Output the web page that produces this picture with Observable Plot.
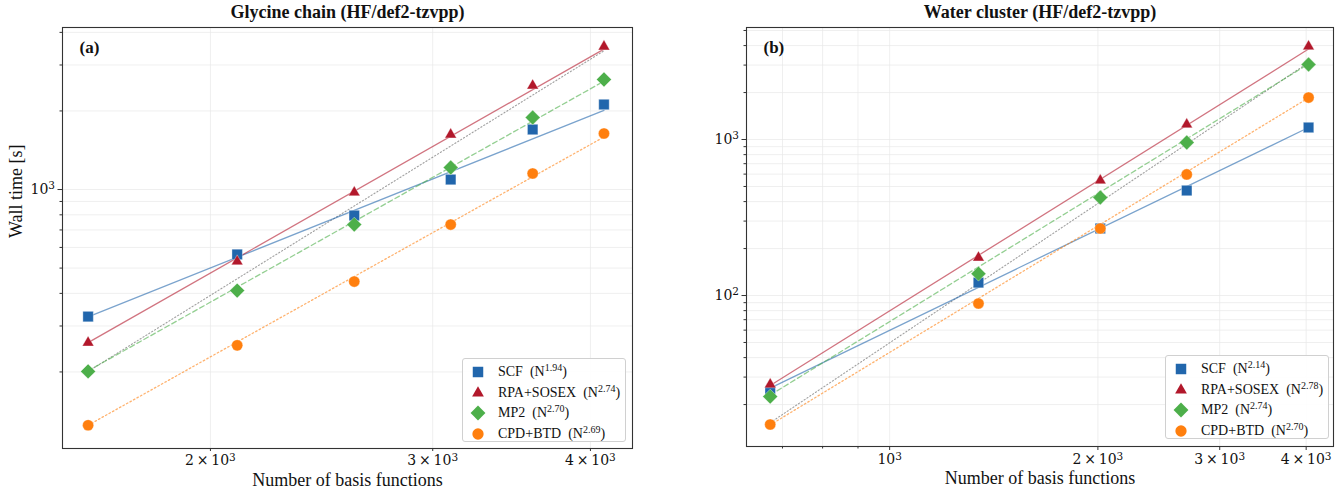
<!DOCTYPE html>
<html>
<head>
<meta charset="utf-8">
<script src="https://cdn.jsdelivr.net/npm/d3@7"></script>
<script src="https://cdn.jsdelivr.net/npm/@observablehq/plot@0.6"></script>
<style>
  body { margin: 0; background: #fff; }
  #wrap { position: relative; width: 1340px; height: 491px; font-family: "Liberation Serif", serif; }
  .panel { position: absolute; top: 0; }
  .legend { position: absolute; border: 1px solid #d0d0d0; border-radius: 3px; background: rgba(255,255,255,0.9);
            font-family: "Liberation Serif", serif; font-size: 14px; color: #111; box-sizing: border-box; padding: 3px 0 0 0; }
  .legend .row { height: 20.5px; display: flex; align-items: center; white-space: nowrap; }
  .legend svg { margin-left: 7px; margin-right: 12px; }
  .legend sup { font-size: 10px; vertical-align: 5px; line-height: 0; }
</style>
</head>
<body>
<div id="wrap"></div>
<script>
// ---------- data ----------
const methods = ["SCF", "RPA+SOSEX", "MP2", "CPD+BTD"];
const colors = ["#2166ac", "#b2182b", "#4daf4a", "#ff7f0e"];
const symbols = ["square", "triangle", "diamond2", "circle"];
const dashes = [null, null, "5,3", "1.5,2.5"];

// Panel (a): Glycine chain
const glyTitle = "Glycine chain (HF/def2-tzvpp)";
const glyN   = [1600, 2100, 2600, 3100, 3600, 4100];
const glySCF = [326, 564, 795, 1092, 1698, 2117];
const glyRPA = [259, 530, 974, 1624, 2502, 3530];
const glyMP2 = [201, 410, 734, 1214, 1888, 2639];
const glyCPD = [125, 253, 444, 734, 1152, 1639];
const glyFitN = [1600, 4100];
const glyFitSCF = [325, 2010];
const glyFitRPA = [259, 3450];
const glyFitMP2 = [202, 2600];
const glyFitCPD = [125, 1590];
const glyRef    = [201, 3400];
const glyExp = ["1.94", "2.74", "2.70", "2.69"];

// Panel (b): Water cluster
const watTitle = "Water cluster (HF/def2-tzvpp)";
const watN   = [672, 1344, 2016, 2688, 4032];
const watSCF = [24.3, 121, 269, 471, 1194];
const watRPA = [26.9, 175, 546, 1248, 3948];
const watMP2 = [22.5, 138, 425, 957, 3026];
const watCPD = [14.9, 88.9, 269, 597, 1858];
const watFitN = [672, 4032];
const watFitSCF = [25.5, 1194];
const watFitRPA = [26.5, 3800];
const watFitMP2 = [23, 3050];
const watFitCPD = [14.8, 1850];
const watRef    = [15.3, 3115];
const watExp = ["2.14", "2.78", "2.74", "2.70"];

// tick values
const glyXTicks = [2000, 3000, 4000];
const glyYMajor = [1000];
const glyYMinor = [200, 300, 400, 500, 600, 700, 800, 900, 2000, 3000, 4000];
const watXMajor = [1000];
const watXMinor = [700, 800, 900, 2000, 3000, 4000];
const watXLabeled = [1000, 2000, 3000, 4000];
const watYMajor = [100, 1000];
const watYMinor = [20, 30, 40, 50, 60, 70, 80, 90, 200, 300, 400, 500, 600, 700, 800, 900, 2000, 3000, 4000, 5000];

function fmtMajor(v) { return "10^" + Math.round(Math.log10(v)); }
function fmtMinor(v) { const e = Math.floor(Math.log10(v)); return `${Math.round(v / 10 ** e)}\u2009×\u200910^${e}`; }

function makePanel(opt) {
  const series = [opt.scf, opt.rpa, opt.mp2, opt.cpd];
  const fits = [opt.fscf, opt.frpa, opt.fmp2, opt.fcpd];
  const pts = [];
  series.forEach((s, i) => s.forEach((v, j) => pts.push({n: opt.N[j], t: v, m: i})));
  const fitRows = [];
  fits.forEach((f, i) => f.forEach((v, j) => fitRows.push({n: opt.fitN[j], t: v, m: i})));
  const refRows = opt.ref.map((v, j) => ({n: opt.fitN[j], t: v}));
  const gridStyle = {stroke: "#e8e8e8", strokeOpacity: 1, strokeWidth: 0.7};
  const tickFont = {fontSize: 14, fontFamily: "DejaVu Serif", fill: "#111"};
  const marks = [
    Plot.gridX(opt.xGrid, gridStyle),
    Plot.gridY(opt.yGrid, gridStyle),
    Plot.line(refRows, {x: "n", y: "t", stroke: "#888", strokeWidth: 1.1, strokeDasharray: "1.2,2.2", strokeOpacity: 0.8}),
    ...[0, 1, 2, 3].map(i => Plot.line(fitRows.filter(d => d.m === i), {
      x: "n", y: "t", stroke: colors[i], strokeOpacity: 0.6, strokeWidth: 1.3,
      strokeDasharray: dashes[i] || undefined
    })),
    ...[0, 1, 2, 3].map(i => Plot.dot(pts.filter(d => d.m === i), {
      x: "n", y: "t", symbol: () => symbols[i], fill: colors[i], stroke: "white", strokeWidth: 0.6, strokeOpacity: 0.6,
      r: [5.9, 4.3, 6.7, 5.6][i]
    })),
    Plot.frame({stroke: "#333", strokeWidth: 1.1}),
    // axes
    Plot.axisX(opt.xLabeled, {label: null, tickFormat: opt.xFmt, tickSize: opt.xTickSize, tickPadding: 4, stroke: "#333", ...tickFont}),
    Plot.axisX(opt.xUnl, {label: null, tickFormat: () => "", tickSize: 2.5, stroke: "#333"}),
    Plot.axisY(opt.yMajor, {label: null, tickFormat: fmtMajor, tickSize: 4.5, tickPadding: 3, stroke: "#333", ...tickFont}),
    Plot.axisY(opt.yMinor, {label: null, tickFormat: () => "", tickSize: 2.5, stroke: "#333"}),
    Plot.text([opt.title], {frameAnchor: "top", dy: -10, fontSize: 18, fontWeight: "bold", fill: "#111", lineAnchor: "bottom"}),
    Plot.text(["Number of basis functions"], {frameAnchor: "bottom", dy: 32, fontSize: 18, fill: "#111", lineAnchor: "middle"}),
    Plot.text([opt.tag], {frameAnchor: "top-left", dx: 17, dy: 20, fontSize: 17, fontWeight: "bold", fill: "#111", textAnchor: "start", lineAnchor: "middle"})
  ];
  if (opt.ylabel) marks.push(Plot.text([opt.ylabel], {frameAnchor: "left", dx: -46, rotate: -90, fontSize: 18, fill: "#111"}));
  const svg = Plot.plot({
    width: 670, height: 491,
    marginLeft: opt.ml, marginRight: opt.mr, marginTop: 27, marginBottom: opt.mb,
    style: {fontFamily: "Liberation Serif, serif", background: "white", overflow: "visible"},
    x: {type: "log", domain: opt.xDomain, axis: null},
    y: {type: "log", domain: opt.yDomain, axis: null},
    marks
  });
  // render exponents of tick labels as raised, smaller text
  d3.select(svg).selectAll("text").each(function () {
    const t = this.textContent;
    const m = t.match(/^(.*10)\^(\d)$/);
    if (m) {
      const el = d3.select(this);
      el.text(null);
      el.append("tspan").text(m[1]);
      el.append("tspan").attr("dy", "-0.45em").attr("font-size", "10.5px").text(m[2]);
    }
  });
  return svg;
}

const wrap = document.getElementById("wrap");

const pa = makePanel({
  title: glyTitle, tag: "(a)", ylabel: "Wall time [s]",
  N: glyN, scf: glySCF, rpa: glyRPA, mp2: glyMP2, cpd: glyCPD,
  fitN: glyFitN, fscf: glyFitSCF, frpa: glyFitRPA, fmp2: glyFitMP2, fcpd: glyFitCPD, ref: glyRef,
  xDomain: [1527, 4319], yDomain: [101.8, 4176], ml: 62, mr: 38, mb: 43,
  xLabeled: glyXTicks, xFmt: fmtMinor, xTickSize: 3, xUnl: [],
  yMajor: glyYMajor, yMinor: glyYMinor,
  xGrid: glyXTicks, yGrid: glyYMajor.concat(glyYMinor)
});
const pb = makePanel({
  title: watTitle, tag: "(b)", ylabel: null,
  N: watN, scf: watSCF, rpa: watRPA, mp2: watMP2, cpd: watCPD,
  fitN: watFitN, fscf: watFitSCF, frpa: watFitRPA, fmp2: watFitMP2, fcpd: watFitCPD, ref: watRef,
  xDomain: [621, 4381], yDomain: [10.77, 5224], ml: 76, mr: 7, mb: 45,
  xLabeled: watXLabeled, xFmt: v => v === 1000 ? fmtMajor(v) : fmtMinor(v), xTickSize: 4, xUnl: [700, 800, 900],
  yMajor: watYMajor, yMinor: watYMinor,
  xGrid: watXMajor.concat(watXMinor), yGrid: watYMajor.concat(watYMinor)
});
const da = document.createElement("div"); da.className = "panel"; da.style.left = "0px"; da.appendChild(pa);
const db = document.createElement("div"); db.className = "panel"; db.style.left = "670px"; db.appendChild(pb);
wrap.appendChild(da); wrap.appendChild(db);

function legend(left, top, exps) {
  const L = document.createElement("div");
  L.className = "legend";
  L.style.left = left + "px"; L.style.top = top + "px"; L.style.width = "164px"; L.style.height = "84px";
  const symMap = {square: d3.symbolSquare, triangle: d3.symbolTriangle, diamond2: d3.symbolDiamond2, circle: d3.symbolCircle};
  methods.forEach((m, i) => {
    const row = document.createElement("div"); row.className = "row";
    const s = d3.create("svg").attr("width", 16).attr("height", 16);
    s.append("path").attr("transform", "translate(8,8)")
      .attr("d", d3.symbol(symMap[symbols[i]], [110, 60, 140, 100][i])())
      .attr("fill", colors[i]);
    row.appendChild(s.node());
    const t = document.createElement("span");
    t.innerHTML = `${m}&nbsp;&nbsp;(N<sup>${exps[i]}</sup>)`;
    row.appendChild(t);
    L.appendChild(row);
  });
  wrap.appendChild(L);
}
legend(462, 358, glyExp);
legend(1165, 355, watExp);
</script>
</body>
</html>
